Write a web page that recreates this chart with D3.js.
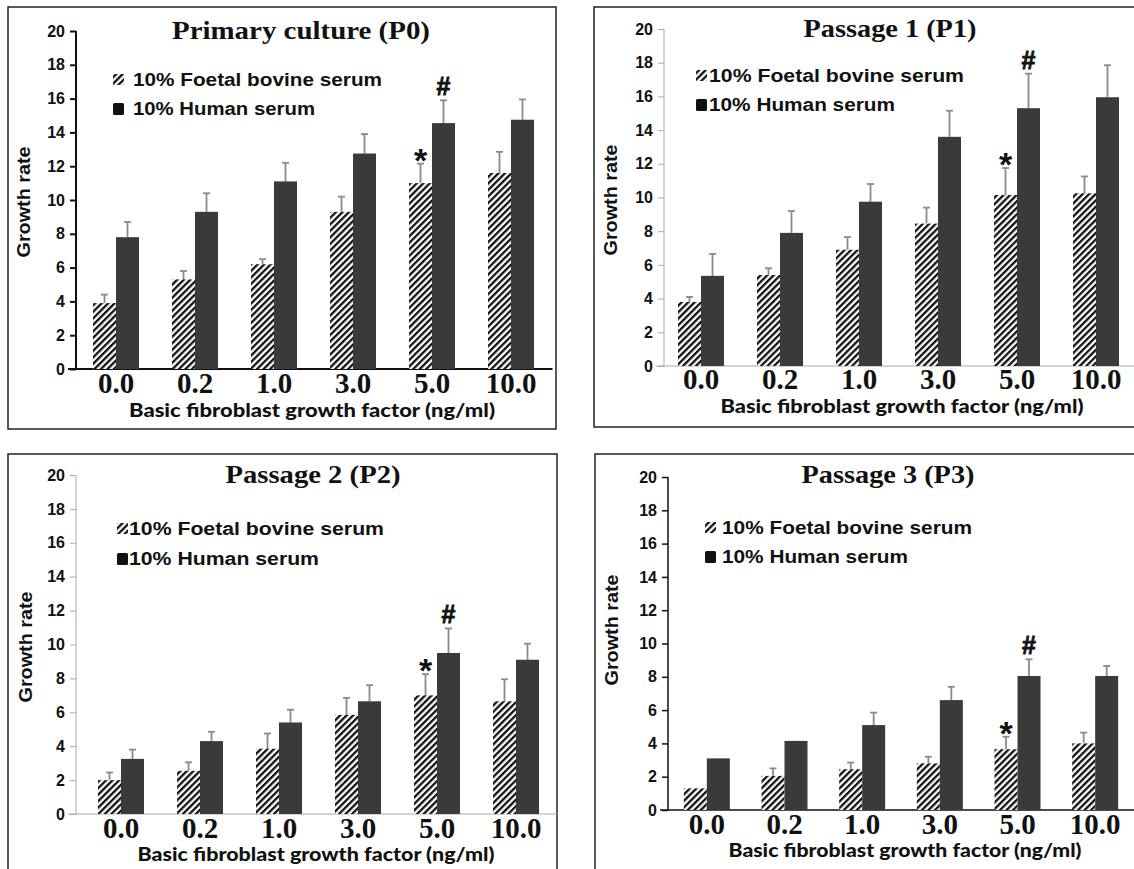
<!DOCTYPE html>
<html>
<head>
<meta charset="utf-8">
<script src="https://cdnjs.cloudflare.com/ajax/libs/d3/7.8.5/d3.min.js"></script>
<style>
  body { margin: 0; background: #fff; }
  svg { display: block; }
</style>
</head>
<body>
<script>

// ---- data ----
var doses = ["0.0", "0.2", "1.0", "3.0", "5.0", "10.0"];
var yTicks = [0, 2, 4, 6, 8, 10, 12, 14, 16, 18, 20];
var seriesNames = ["10% Foetal bovine serum", "10% Human serum"];
var titles = ["Primary culture (P0)", "Passage 1 (P1)", "Passage 2 (P2)", "Passage 3 (P3)"];

var p0Fbs   = [3.9, 5.3, 6.2, 9.3, 11.0, 11.6];
var p0FbsSd = [0.5, 0.5, 0.3, 0.9, 1.15, 1.25];
var p0Hs    = [7.8, 9.3, 11.1, 12.75, 14.55, 14.75];
var p0HsSd  = [0.9, 1.1, 1.1, 1.15, 1.35, 1.2];

var p1Fbs   = [3.8, 5.4, 6.9, 8.45, 10.15, 10.25];
var p1FbsSd = [0.3, 0.4, 0.75, 0.95, 1.6, 1.0];
var p1Hs    = [5.35, 7.9, 9.75, 13.6, 15.3, 15.95];
var p1HsSd  = [1.3, 1.3, 1.05, 1.55, 2.05, 1.9];

var p2Fbs   = [2.0, 2.55, 3.85, 5.85, 7.0, 6.65];
var p2FbsSd = [0.45, 0.5, 0.9, 1.0, 1.25, 1.3];
var p2Hs    = [3.25, 4.3, 5.4, 6.65, 9.5, 9.1];
var p2HsSd  = [0.55, 0.55, 0.75, 0.95, 1.45, 0.95];

var p3Fbs   = [1.3, 2.05, 2.45, 2.8, 3.65, 4.0];
var p3FbsSd = [0, 0.45, 0.4, 0.4, 0.75, 0.65];
var p3Hs    = [3.1, 4.15, 5.1, 6.6, 8.05, 8.05];
var p3HsSd  = [0, 0, 0.75, 0.8, 1.0, 0.6];

// ---- layout for each panel ----
var panels = [
	{ title: titles[0], fbs: p0Fbs, fbsSd: p0FbsSd, hs: p0Hs, hsSd: p0HsSd,
	  box: [8, 7, 548, 422], axisX: 76, xr: [76.5, 550.5], yr: [369, 31], axisCol: "#111", axisW: 2,
	  titleX: 301, titleY: 39, titleW: 258, legX: 113, legTX: 133, legY: [86, 115], legW: [249, 182],
	  ylabX: 30, ylabY: 202, xlabY: 393, xtitX: 312, xtitY: 417, xtitW: 366 },
	{ title: titles[1], fbs: p1Fbs, fbsSd: p1FbsSd, hs: p1Hs, hsSd: p1HsSd,
	  box: [594, 7, 560, 420], axisX: 664, xr: [661.5, 1135.5], yr: [366, 29], axisCol: "#aaa", axisW: 1,
	  titleX: 890, titleY: 37, titleW: 173, legX: 696, legTX: 709, legY: [82, 111], legW: [255, 186],
	  ylabX: 617, ylabY: 200, xlabY: 389, xtitX: 902, xtitY: 413, xtitW: 363 },
	{ title: titles[2], fbs: p2Fbs, fbsSd: p2FbsSd, hs: p2Hs, hsSd: p2HsSd,
	  box: [8, 454, 549, 420], axisX: 76, xr: [81.5, 555.5], yr: [814, 475], axisCol: "#aaa", axisW: 1,
	  titleX: 313, titleY: 483, titleW: 175, legX: 117, legTX: 129, legY: [535, 565], legW: [255, 190],
	  ylabX: 32, ylabY: 647, xlabY: 838, xtitX: 316, xtitY: 861, xtitW: 357 },
	{ title: titles[3], fbs: p3Fbs, fbsSd: p3FbsSd, hs: p3Hs, hsSd: p3HsSd,
	  box: [595, 454, 560, 420], axisX: 668, xr: [668, 1134], yr: [810, 477], axisCol: "#111", axisW: 1.5,
	  titleX: 888, titleY: 483, titleW: 173, legX: 705, legTX: 722, legY: [534, 563], legW: [250, 186],
	  ylabX: 618, ylabY: 630, xlabY: 834, xtitX: 905, xtitY: 857, xtitW: 353 }
];

var hsColor = "#3a3a3a";
var errColor = "#8a8a8a";
var barW = 23;
var sans = "'Liberation Sans', Arial, sans-serif";
var serif = "'Liberation Serif', 'Times New Roman', serif";

var svg = d3.select("body").append("svg")
	.attr("width", 1134)
	.attr("height", 869);

// diagonal hatching used for the FBS bars
var pat = svg.append("defs").append("pattern")
	.attr("id", "hatch")
	.attr("patternUnits", "userSpaceOnUse")
	.attr("width", 4.6)
	.attr("height", 4.6)
	.attr("patternTransform", "rotate(45)");
pat.append("rect").attr("width", 4.6).attr("height", 4.6).attr("fill", "#fff");
pat.append("rect").attr("width", 2.3).attr("height", 4.6).attr("fill", "#111");

function drawPanel(p) {
	var g = svg.append("g");

	g.append("rect")
		.attr("x", p.box[0]).attr("y", p.box[1])
		.attr("width", p.box[2]).attr("height", p.box[3])
		.attr("fill", "none")
		.attr("stroke", "#222")
		.attr("stroke-width", 1.5);

	var x = d3.scaleBand().domain(doses).range(p.xr).padding(0);
	var y = d3.scaleLinear().domain([0, 20]).range(p.yr);

	// y axis
	var ya = g.append("g")
		.attr("transform", "translate(" + p.axisX + ",0)")
		.call(d3.axisLeft(y).tickValues(yTicks).tickSize(6).tickPadding(5).tickFormat(d3.format("d")));
	ya.selectAll("path, line").attr("stroke", p.axisCol).attr("stroke-width", p.axisW);
	ya.select(".domain").attr("d", "M0," + y(20) + "V" + y(0));
	ya.selectAll("text")
		.style("font-family", sans)
		.style("font-weight", "bold")
		.style("font-size", "16px")
		.attr("fill", "#111");

	// baseline
	g.append("line")
		.attr("x1", p.axisX - 8).attr("x2", p.xr[1] + 2)
		.attr("y1", y(0)).attr("y2", y(0))
		.attr("stroke", p.axisCol)
		.attr("stroke-width", p.axisW);

	// x tick labels
	var xa = g.append("g")
		.attr("transform", "translate(0," + y(0) + ")")
		.call(d3.axisBottom(x).tickSize(0));
	xa.select(".domain").remove();
	xa.selectAll("text")
		.attr("dy", null)
		.attr("y", p.xlabY - y(0))
		.style("font-family", serif)
		.style("font-weight", "bold")
		.style("font-size", "29px")
		.attr("fill", "#111");

	var half = x.bandwidth() / 2;

	// error bars (upper only)
	function errBars(vals, sds, dx) {
		var e = g.append("g").selectAll("g")
			.data(doses.map(function(d, i) { return { d: d, v: vals[i], s: sds[i] }; }).filter(function(r) { return r.s > 0; }))
			.enter().append("g");
		e.append("line")
			.attr("x1", function(r) { return x(r.d) + half + dx; })
			.attr("x2", function(r) { return x(r.d) + half + dx; })
			.attr("y1", function(r) { return y(r.v); })
			.attr("y2", function(r) { return y(r.v + r.s); })
			.attr("stroke", errColor).attr("stroke-width", 1.8);
		e.append("line")
			.attr("x1", function(r) { return x(r.d) + half + dx - 3.5; })
			.attr("x2", function(r) { return x(r.d) + half + dx + 3.5; })
			.attr("y1", function(r) { return y(r.v + r.s); })
			.attr("y2", function(r) { return y(r.v + r.s); })
			.attr("stroke", errColor).attr("stroke-width", 1.8);
	}
	errBars(p.fbs, p.fbsSd, -barW / 2);
	errBars(p.hs, p.hsSd, barW / 2);

	// bars
	g.append("g").selectAll("rect")
		.data(p.fbs)
		.enter().append("rect")
		.attr("x", function(d, i) { return x(doses[i]) + half - barW; })
		.attr("y", function(d) { return y(d); })
		.attr("width", barW)
		.attr("height", function(d) { return y(0) - y(d); })
		.attr("fill", "url(#hatch)");

	g.append("g").selectAll("rect")
		.data(p.hs)
		.enter().append("rect")
		.attr("x", function(d, i) { return x(doses[i]) + half; })
		.attr("y", function(d) { return y(d); })
		.attr("width", barW)
		.attr("height", function(d) { return y(0) - y(d); })
		.attr("fill", hsColor);

	// significance marks at 5.0 ng/ml
	var k = doses.indexOf("5.0");
	g.append("text")
		.attr("x", x("5.0") + half - barW / 2)
		.attr("y", y(p.fbs[k] + p.fbsSd[k]) + 8)
		.attr("text-anchor", "middle")
		.style("font-family", sans)
		.style("font-weight", "bold")
		.style("font-size", "34px")
		.attr("fill", "#111")
		.text("*");
	g.append("text")
		.attr("x", x("5.0") + half + barW / 2)
		.attr("y", y(p.hs[k] + p.hsSd[k]) - 5)
		.attr("text-anchor", "middle")
		.style("font-family", sans)
		.style("font-weight", "bold")
		.style("font-size", "25px")
		.attr("fill", "#111")
		.attr("stroke", "#111")
		.attr("stroke-width", 0.8)
		.text("#");

	// title
	g.append("text")
		.attr("x", p.titleX).attr("y", p.titleY)
		.attr("text-anchor", "middle")
		.attr("textLength", p.titleW)
		.attr("lengthAdjust", "spacingAndGlyphs")
		.style("font-family", serif)
		.style("font-weight", "bold")
		.style("font-size", "26px")
		.attr("fill", "#111")
		.text(p.title);

	// legend
	var leg = g.append("g");
	leg.append("rect")
		.attr("x", p.legX).attr("y", p.legY[0] - 12)
		.attr("width", 11).attr("height", 11)
		.attr("fill", "url(#hatch)");
	leg.append("rect")
		.attr("x", p.legX).attr("y", p.legY[1] - 12)
		.attr("width", 11).attr("height", 12)
		.attr("rx", 1.5)
		.attr("fill", "#111");
	leg.selectAll("text")
		.data(seriesNames)
		.enter().append("text")
		.attr("x", p.legTX)
		.attr("y", function(d, i) { return p.legY[i]; })
		.attr("textLength", function(d, i) { return p.legW[i]; })
		.attr("lengthAdjust", "spacingAndGlyphs")
		.style("font-family", sans)
		.style("font-weight", "bold")
		.style("font-size", "18px")
		.attr("fill", "#111")
		.text(function(d) { return d; });

	// axis titles
	g.append("text")
		.attr("transform", "translate(" + p.ylabX + "," + p.ylabY + ") rotate(-90)")
		.attr("text-anchor", "middle")
		.attr("textLength", 111)
		.attr("lengthAdjust", "spacingAndGlyphs")
		.style("font-family", sans)
		.style("font-weight", "bold")
		.style("font-size", "19px")
		.attr("fill", "#111")
		.text("Growth rate");

	g.append("text")
		.attr("x", p.xtitX).attr("y", p.xtitY)
		.attr("text-anchor", "middle")
		.attr("textLength", p.xtitW)
		.attr("lengthAdjust", "spacingAndGlyphs")
		.style("font-family", "Lato, 'Open Sans', sans-serif")
		.style("font-weight", "900")
		.style("font-size", "19px")
		.attr("fill", "#111")
		.text("Basic fibroblast growth factor (ng/ml)");
}

panels.forEach(drawPanel);

</script>
</body>
</html>
